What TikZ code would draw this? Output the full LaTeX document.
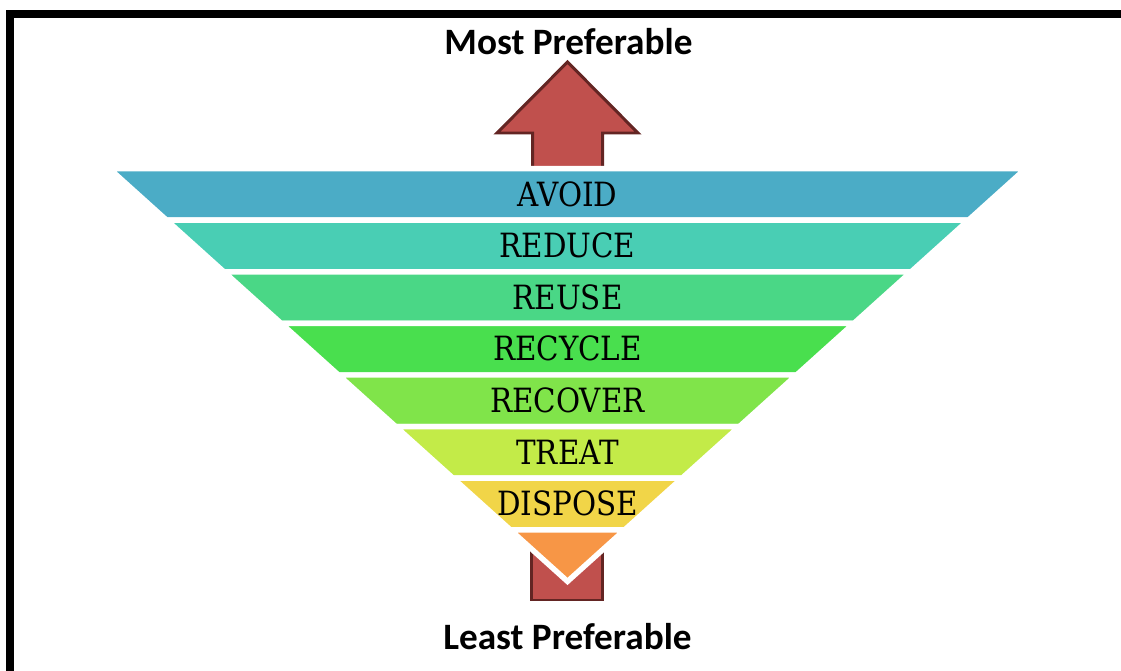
\documentclass[tikz,border=0pt]{standalone}
\usepackage{fontspec}
\setmainfont{DejaVu Serif}[FakeStretch=0.88]
\newfontfamily\lblfont{Carlito}
\definecolor{cA}{HTML}{4BACC6}
\definecolor{cB}{HTML}{49CEB4}
\definecolor{cC}{HTML}{4AD786}
\definecolor{cD}{HTML}{49DF4E}
\definecolor{cE}{HTML}{80E44A}
\definecolor{cF}{HTML}{C3EB48}
\definecolor{cG}{HTML}{F1D548}
\definecolor{cH}{HTML}{F79646}
\definecolor{arrfill}{HTML}{C0504D}
\definecolor{arrline}{HTML}{632523}
\tikzset{
  band/.style={draw=white, line width=3.1pt, line join=miter},
  arrowshape/.style={fill=arrfill, draw=arrline, line width=1.7pt, line join=miter},
  bandlabel/.style={anchor=base, inner sep=0pt, font=\fontsize{19}{22}\selectfont},
  preflabel/.style={anchor=base, inner sep=0pt, font=\lblfont\bfseries\fontsize{21.2}{25}\selectfont}
}
\begin{document}
\begin{tikzpicture}[x={(0.02cm,0)}, y={(0,-0.02cm)}]
\useasboundingbox (0,0) rectangle (1121,671);
% frame
\fill[black] (6,10) rectangle (1121,18);
\fill[black] (6,10) rectangle (14,671);
% arrows
\draw[arrowshape] (532.5,180) -- (532.5,133) -- (497,133) -- (567.5,62) -- (638,133) -- (602.5,133) -- (602.5,180) -- cycle;
\draw[arrowshape] (531,535) rectangle (602,600);
% bands
\foreach \k/\lab/\col in {0/AVOID/cA, 1/REDUCE/cB, 2/REUSE/cC, 3/RECYCLE/cD, 4/RECOVER/cE, 5/TREAT/cF, 6/DISPOSE/cG} {
  \pgfmathsetmacro\yt{168.6+51.6*\k}
  \pgfmathsetmacro\yb{\yt+51.6}
  \pgfmathsetmacro\dt{1.11*(581.4-\yt)}
  \pgfmathsetmacro\db{1.11*(581.4-\yb)}
  \filldraw[band, fill=\col] (567.5-\dt,\yt) -- (567.5+\dt,\yt) -- (567.5+\db,\yb) -- (567.5-\db,\yb) -- cycle;
  \node[bandlabel] (b\k) at (567.5,\yt+37.5) {\lab};
}
\pgfmathsetmacro\yt{168.6+51.6*7}
\pgfmathsetmacro\dt{1.11*(581.4-\yt)}
\filldraw[band, fill=cH] (567.5-\dt,\yt) -- (567.5+\dt,\yt) -- (567.5,581.4) -- cycle;
% labels
\node[preflabel] (most) at (568.5,54.5) {Most Preferable};
\node[preflabel] (least) at (567.5,649.5) {Least Preferable};
\end{tikzpicture}
\end{document}
